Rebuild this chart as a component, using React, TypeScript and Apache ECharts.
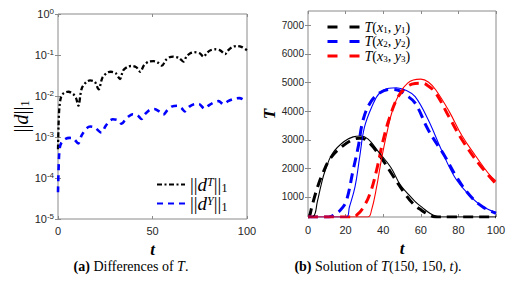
import React, { useEffect, useRef } from 'react';
import * as echarts from 'echarts';

// ---------- (a) Differences of T ----------
const dT_t = [0, 0.3, 0.7, 1.5, 3, 5.5, 8, 9.5, 10.8, 12.5, 15, 17, 19.5, 21.5, 23.5, 26, 28, 30.5, 32.8, 34.5, 37, 39, 41.5, 43.5, 45.5, 48, 50.5, 52.5, 55, 57, 59, 61, 64, 66.3, 68, 70, 72, 75, 77, 79, 81, 83, 86, 88.4, 90, 92, 94.5, 97, 100];
const dT_v = [5e-4, 2e-3, 5e-3, 9e-3, 1.18e-2, 1.27e-2, 1.12e-2, 9e-3, 5.8e-3, 1.5e-2, 2.2e-2, 2.4e-2, 2.2e-2, 1.45e-2, 2.8e-2, 3.7e-2, 3.9e-2, 3.6e-2, 2.6e-2, 4.2e-2, 5.2e-2, 5.4e-2, 5.0e-2, 3.9e-2, 5.6e-2, 6.9e-2, 7.1e-2, 6.7e-2, 5.5e-2, 7.5e-2, 8.8e-2, 9.1e-2, 8.5e-2, 6.9e-2, 9.2e-2, 1.1e-1, 1.17e-1, 1.1e-1, 9.1e-2, 1.15e-1, 1.32e-1, 1.38e-1, 1.28e-1, 1.05e-1, 1.3e-1, 1.55e-1, 1.66e-1, 1.58e-1, 1.3e-1];

const dY_t = [0, 0.5, 1, 2, 4, 6, 8, 10.7, 12.5, 15, 17, 19.5, 23, 25, 27, 29, 31.5, 33.7, 35.5, 37.5, 39.5, 42, 44.2, 46, 48.5, 51, 53.5, 55.7, 58, 60.5, 63, 65.5, 67, 69.5, 72, 74.5, 77.5, 80, 82.5, 85, 87.5, 90, 93, 96, 100];
const dY_v = [4.5e-5, 3e-4, 5.7e-4, 7.5e-4, 9e-4, 9.5e-4, 9.3e-4, 7e-4, 1.1e-3, 1.6e-3, 1.8e-3, 1.7e-3, 1.27e-3, 1.8e-3, 2.4e-3, 2.7e-3, 2.6e-3, 2.1e-3, 2.6e-3, 3.2e-3, 3.6e-3, 3.4e-3, 2.75e-3, 3.6e-3, 4.6e-3, 4.8e-3, 4.2e-3, 3.5e-3, 4.6e-3, 5.6e-3, 5.8e-3, 5.0e-3, 4.2e-3, 5.5e-3, 6.3e-3, 6.4e-3, 4.9e-3, 6.0e-3, 7.0e-3, 7.5e-3, 6.3e-3, 7.5e-3, 8.5e-3, 8.9e-3, 7.2e-3];

// ---------- (b) Solution of T(150,150,t) ----------
const T1s_t = [0, 3, 5, 7, 9, 13, 19, 24, 28, 32, 37, 44, 49, 53, 57, 61, 65, 68, 71, 100];
const T1s_v = [300, 330, 850, 1420, 1900, 2520, 2930, 3100, 3130, 3020, 2620, 2040, 1430, 1120, 840, 620, 420, 330, 300, 300];
const T1d_t = [0, 0.8, 2, 5, 8, 12, 18, 25, 27.5, 31, 38, 45, 51.5, 56, 60.5, 64, 67, 70, 100];
const T1d_v = [300, 330, 650, 1330, 1850, 2360, 2760, 3030, 3050, 2990, 2460, 1760, 1120, 760, 530, 390, 310, 300, 300];

const T2s_t = [0, 20.5, 22, 25, 27.5, 30, 34, 38, 43, 47, 52, 57, 64, 71, 78, 85, 92, 100];
const T2s_v = [300, 300, 640, 1350, 2400, 3430, 4160, 4630, 4800, 4820, 4730, 4510, 3690, 2640, 1700, 1120, 710, 450];
const T2d_t = [0, 11, 15, 18, 20.5, 24, 26.7, 29.3, 33, 38, 44, 48, 52, 57, 64, 73, 79, 86, 93, 100];
const T2d_v = [300, 300, 420, 600, 880, 1940, 2750, 3690, 4280, 4630, 4760, 4730, 4570, 4280, 3340, 2400, 1700, 1060, 650, 430];

const T3s_t = [0, 31.8, 33.8, 36.5, 39, 42, 45, 49, 53, 56, 60, 64, 68, 75, 82, 89, 96, 100];
const T3s_v = [300, 300, 540, 1350, 2290, 3250, 4040, 4660, 4980, 5090, 5120, 5020, 4740, 4000, 3130, 2450, 1820, 1560];
const T3d_t = [0, 24, 26, 29, 33, 36.5, 40, 43.6, 48, 53, 57, 60.5, 64, 68, 75, 82, 91, 100];
const T3d_v = [300, 300, 370, 590, 1120, 1940, 2990, 3810, 4510, 4870, 4970, 4980, 4880, 4630, 3800, 2990, 2150, 1460];

const bYTicks = [1000, 2000, 3000, 4000, 5000, 6000, 7000];

const pairs = (t: number[], v: number[]) => t.map((x, i) => [x, v[i]]);

const FRAME = '#8a8a8a';
const LABEL = '#262626';
const SANS = 'Liberation Sans';
const SERIF = 'Liberation Serif';

const tick = { show: true, inside: true, length: 3, lineStyle: { color: FRAME, width: 1 } };

export default function App() {
  const ref = useRef<HTMLDivElement>(null);
  useEffect(() => {
    const chart = echarts.init(ref.current!, null, { renderer: 'svg' });

    const legendRichLeft = {
      n: { fontFamily: SERIF, fontSize: 19, lineHeight: 18, verticalAlign: 'middle', color: '#000' },
      i: { fontFamily: SERIF, fontSize: 19, fontStyle: 'italic', lineHeight: 18, verticalAlign: 'middle', color: '#000' },
      sup: { fontFamily: SERIF, fontSize: 12, fontStyle: 'italic', lineHeight: 8, verticalAlign: 'top', color: '#000' },
      sub: { fontFamily: SERIF, fontSize: 12, lineHeight: 8, verticalAlign: 'bottom', color: '#000' },
    };
    const legendRichRight = {
      n: { fontFamily: SERIF, fontSize: 14, lineHeight: 14, verticalAlign: 'middle', color: '#000' },
      i: { fontFamily: SERIF, fontSize: 14, fontStyle: 'italic', lineHeight: 14, verticalAlign: 'middle', color: '#000' },
      sub: { fontFamily: SERIF, fontSize: 9, lineHeight: 6, verticalAlign: 'bottom', color: '#000' },
    };
    const leftNames: Record<string, string> = {
      dT: '{n|||}{i|d}{sup|T}{n|||}{sub|1}',
      dY: '{n|||}{i|d}{sup|Y}{n|||}{sub|1}',
    };
    const rightNames: Record<string, string> = {
      T1: '{i|T}{n|(}{i|x}{sub|1}{n|, }{i|y}{sub|1}{n|)}',
      T2: '{i|T}{n|(}{i|x}{sub|2}{n|, }{i|y}{sub|2}{n|)}',
      T3: '{i|T}{n|(}{i|x}{sub|3}{n|, }{i|y}{sub|3}{n|)}',
    };

    const xLabel = { fontFamily: SANS, fontSize: 11, color: LABEL, margin: 6 };
    const nameT = { fontFamily: SERIF, fontSize: 17, fontStyle: 'italic', fontWeight: 'bold', color: '#000' };

    const option: any = {
      animation: false,
      backgroundColor: '#fff',
      grid: [
        { left: 58, top: 14, width: 189, height: 205, show: true, borderColor: FRAME, borderWidth: 1, backgroundColor: 'transparent' },
        { left: 308, top: 11, width: 188, height: 206, show: true, borderColor: FRAME, borderWidth: 1, backgroundColor: 'transparent' },
      ],
      xAxis: [
        {
          gridIndex: 0, type: 'value', min: 0, max: 100, interval: 50, position: 'bottom',
          axisLine: { show: false }, axisTick: tick, splitLine: { show: false },
          axisLabel: xLabel,
          name: 't', nameLocation: 'middle', nameGap: 19, nameTextStyle: nameT,
        },
        {
          gridIndex: 0, type: 'value', min: 0, max: 100, interval: 50, position: 'top',
          axisLine: { show: false }, axisTick: tick, splitLine: { show: false }, axisLabel: { show: false },
        },
        {
          gridIndex: 1, type: 'value', min: 0, max: 100, interval: 20, position: 'bottom',
          axisLine: { show: false }, axisTick: tick, splitLine: { show: false },
          axisLabel: { ...xLabel, margin: 7 },
          name: 't', nameLocation: 'middle', nameGap: 21, nameTextStyle: nameT,
        },
        {
          gridIndex: 1, type: 'value', min: 0, max: 100, interval: 20, position: 'top',
          axisLine: { show: false }, axisTick: tick, splitLine: { show: false }, axisLabel: { show: false },
        },
      ],
      yAxis: [
        {
          gridIndex: 0, type: 'log', logBase: 10, min: 1e-5, max: 1, position: 'left',
          axisLine: { show: false }, axisTick: tick, splitLine: { show: false },
          axisLabel: {
            margin: 4,
            formatter: (v: number) => '{b|10}{e|' + Math.round(Math.log10(v)) + '}',
            rich: {
              b: { fontFamily: SANS, fontSize: 11, color: LABEL, lineHeight: 14, verticalAlign: 'middle' },
              e: { fontFamily: SANS, fontSize: 8, color: LABEL, lineHeight: 6, verticalAlign: 'top' },
            },
          },
          name: '{n|||}{i|d}{n|||}{s|1}', nameLocation: 'middle', nameGap: 23, nameRotate: 90,
          nameTextStyle: {
            fontSize: 20,
            rich: {
              n: { fontFamily: SERIF, fontSize: 20, lineHeight: 20, verticalAlign: 'middle', color: '#000' },
              i: { fontFamily: SERIF, fontSize: 20, fontStyle: 'italic', lineHeight: 20, verticalAlign: 'middle', color: '#000' },
              s: { fontFamily: SERIF, fontSize: 12, lineHeight: 8, verticalAlign: 'bottom', color: '#000' },
            },
          },
        },
        {
          gridIndex: 0, type: 'log', logBase: 10, min: 1e-5, max: 1, position: 'right',
          axisLine: { show: false }, axisTick: tick, splitLine: { show: false }, axisLabel: { show: false },
        },
        {
          gridIndex: 1, type: 'value', min: 300, max: 7500, position: 'left',
          axisLine: { show: false },
          axisTick: { ...tick, customValues: bYTicks },
          splitLine: { show: false },
          axisLabel: {
            fontFamily: SANS, fontSize: 10, color: LABEL, margin: 4, customValues: bYTicks,
            formatter: (v: number) => String(v),
          },
          name: 'T', nameLocation: 'middle', nameGap: 30, nameRotate: 90, nameTextStyle: nameT,
        },
        {
          gridIndex: 1, type: 'value', min: 300, max: 7500, position: 'right',
          axisLine: { show: false },
          axisTick: { ...tick, customValues: bYTicks },
          splitLine: { show: false }, axisLabel: { show: false, customValues: bYTicks },
        },
      ],
      legend: [
        {
          orient: 'vertical', left: 151, top: 170, itemWidth: 28, itemHeight: 10, itemGap: 0,
          selectedMode: false, data: ['dT', 'dY'],
          formatter: (n: string) => leftNames[n],
          itemStyle: { color: 'transparent', borderWidth: 0 },
          textStyle: { fontSize: 19, rich: legendRichLeft },
        },
        {
          orient: 'vertical', left: 321, top: 15, itemWidth: 32, itemHeight: 10, itemGap: 0.5,
          selectedMode: false, data: ['T1', 'T2', 'T3'],
          formatter: (n: string) => rightNames[n],
          itemStyle: { color: 'transparent', borderWidth: 0 },
          lineStyle: { width: 3, type: [10, 12] },
          textStyle: { fontSize: 14, rich: legendRichRight },
        },
      ],
      graphic: [
        {
          type: 'text', x: 131, y: 266,
          style: {
            text: '{b|(a)}{n| Differences of }{i|T}{n|.}',
            align: 'center', verticalAlign: 'middle', textAlign: 'center', textVerticalAlign: 'middle',
            rich: {
              b: { fontFamily: SERIF, fontSize: 14, fontWeight: 'bold', fill: '#000' },
              n: { fontFamily: SERIF, fontSize: 14, fill: '#000' },
              i: { fontFamily: SERIF, fontSize: 14, fontStyle: 'italic', fill: '#000' },
            },
          },
        },
        {
          type: 'text', x: 378, y: 266,
          style: {
            text: '{b|(b)}{n| Solution of }{i|T}{n|(150, 150, }{i|t}{n|).}',
            align: 'center', verticalAlign: 'middle', textAlign: 'center', textVerticalAlign: 'middle',
            rich: {
              b: { fontFamily: SERIF, fontSize: 14, fontWeight: 'bold', fill: '#000' },
              n: { fontFamily: SERIF, fontSize: 14, fill: '#000' },
              i: { fontFamily: SERIF, fontSize: 14, fontStyle: 'italic', fill: '#000' },
            },
          },
        },
      ],
      series: [
        {
          name: 'dT', type: 'line', xAxisIndex: 0, yAxisIndex: 0, data: pairs(dT_t, dT_v),
          symbol: 'none', showSymbol: false, smooth: 0.3,
          lineStyle: { color: '#000', width: 2.3, type: [5, 2.5, 2, 2.5] }, itemStyle: { color: '#000' },
        },
        {
          name: 'dY', type: 'line', xAxisIndex: 0, yAxisIndex: 0, data: pairs(dY_t, dY_v),
          symbol: 'none', showSymbol: false, smooth: 0.3,
          lineStyle: { color: '#0000ff', width: 2.6, type: [6, 5] }, itemStyle: { color: '#0000ff' },
        },
        {
          name: 'T1', type: 'line', xAxisIndex: 2, yAxisIndex: 2, data: pairs(T1d_t, T1d_v),
          symbol: 'none', showSymbol: false, smooth: 0.4,
          lineStyle: { color: '#000', width: 3, type: [10, 6] }, itemStyle: { color: '#000' },
        },
        {
          name: 'T2', type: 'line', xAxisIndex: 2, yAxisIndex: 2, data: pairs(T2d_t, T2d_v),
          symbol: 'none', showSymbol: false, smooth: 0.4,
          lineStyle: { color: '#0000ff', width: 3, type: [10, 6] }, itemStyle: { color: '#0000ff' },
        },
        {
          name: 'T3', type: 'line', xAxisIndex: 2, yAxisIndex: 2, data: pairs(T3d_t, T3d_v),
          symbol: 'none', showSymbol: false, smooth: 0.4,
          lineStyle: { color: '#ff0000', width: 3, type: [10, 6] }, itemStyle: { color: '#ff0000' },
        },
        {
          name: 'T1 exact', type: 'line', xAxisIndex: 2, yAxisIndex: 2, data: pairs(T1s_t, T1s_v),
          symbol: 'none', showSymbol: false, smooth: 0.4,
          lineStyle: { color: '#000', width: 1.1 },
        },
        {
          name: 'T2 exact', type: 'line', xAxisIndex: 2, yAxisIndex: 2, data: pairs(T2s_t, T2s_v),
          symbol: 'none', showSymbol: false, smooth: 0.4,
          lineStyle: { color: '#0000ff', width: 1.1 },
        },
        {
          name: 'T3 exact', type: 'line', xAxisIndex: 2, yAxisIndex: 2, data: pairs(T3s_t, T3s_v),
          symbol: 'none', showSymbol: false, smooth: 0.4,
          lineStyle: { color: '#ff0000', width: 1.1 },
        },
      ],
    };

    chart.setOption(option);
    return () => chart.dispose();
  }, []);

  return (
    <div
      ref={ref}
      style={{ position: 'absolute', left: 0, top: 0, width: 527, height: 288, background: '#fff' }}
    />
  );
}
